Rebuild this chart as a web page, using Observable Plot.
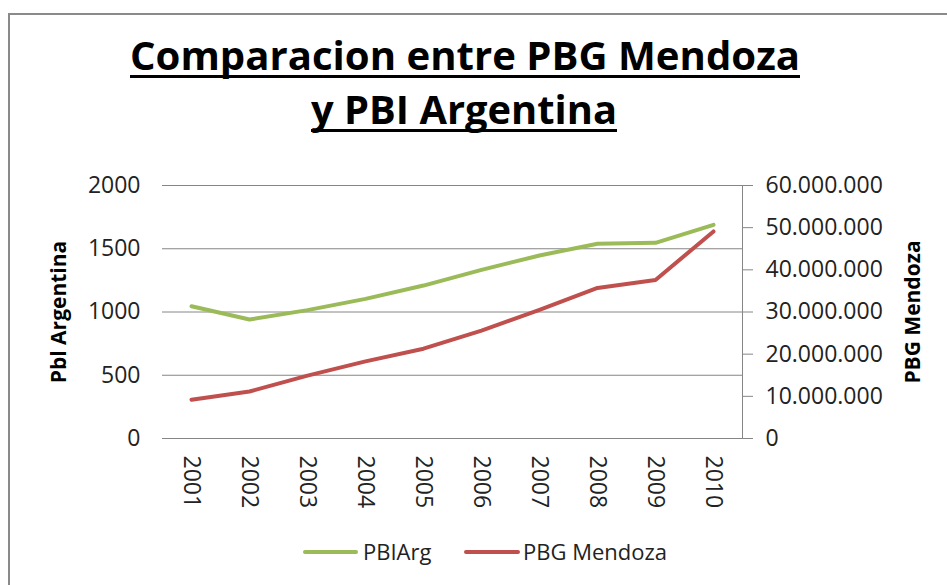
<!DOCTYPE html>
<html>
<head>
<meta charset="utf-8">
<script src="https://cdn.jsdelivr.net/npm/d3@7"></script>
<script src="https://cdn.jsdelivr.net/npm/@observablehq/plot@0.6"></script>
<style>
  html, body { margin: 0; padding: 0; background: #fff; }
  #chart { position: relative; width: 947px; height: 585px; overflow: hidden; background: #fff; font-family: "Open Sans", sans-serif; }
  #border { position: absolute; left: 8px; top: 13px; width: 1200px; height: 1200px; border-left: 2px solid #8a8a8a; border-top: 2px solid #8a8a8a; }
  #plot { position: absolute; left: 0; top: 0; }
  .title { position: absolute; white-space: nowrap; font-weight: bold; font-size: 40px; line-height: 40px; color: #000;
           text-decoration: underline; text-decoration-thickness: 3px; text-underline-offset: 5px;
           text-decoration-skip-ink: none; transform-origin: 0 0; }
  .legend-swatch { position: absolute; top: 550px; height: 4px; border-radius: 2px; }
  .legend-label { position: absolute; top: 536px; font-size: 22px; line-height: 30px; color: #222; white-space: nowrap; }
  g[aria-label="y-axis label"] text { font-weight: bold; font-size: 21px; fill: #000; }
</style>
</head>
<body>
<div id="chart">
  <div id="border"></div>
  <div id="plot"></div>
  <div id="t1" class="title">Comparacion entre PBG Mendoza</div>
  <div id="t2" class="title">y PBI Argentina</div>
  <div id="legend"></div>
</div>
<script>
// ---- data ----
const years = ["2001", "2002", "2003", "2004", "2005", "2006", "2007", "2008", "2009", "2010"];
const pbiArg = [1045, 941, 1015, 1104, 1209, 1333, 1447, 1539, 1547, 1689];
const pbgMendoza = [9180000, 11150000, 14900000, 18300000, 21300000, 25600000, 30500000, 35700000, 37600000, 49100000];
const leftTicks = [0, 500, 1000, 1500, 2000];
const rightTicks = [0, 10000000, 20000000, 30000000, 40000000, 50000000, 60000000];
const seriesNames = ["PBIArg", "PBG Mendoza"];
const seriesColors = ["#9BBB59", "#C0504D"];
const leftLabel = "Pbl Argentina";
const rightLabel = "PBG Mendoza";

// ---- dual-axis mapping ----
const leftMax = leftTicks[leftTicks.length - 1];
const rightMax = rightTicks[rightTicks.length - 1];
const k = leftMax / rightMax;
const fmt = d3.formatLocale({decimal: ",", thousands: ".", grouping: [3], currency: ["", ""]}).format(",.0f");

const plot = Plot.plot({
  width: 947,
  height: 585,
  marginTop: 185,
  marginBottom: 147,
  marginLeft: 162,
  marginRight: 205,
  style: {fontFamily: "'Open Sans', sans-serif", fontSize: "23px", color: "#222", background: "transparent", overflow: "visible"},
  x: {type: "point", domain: years, padding: 0.5},
  y: {domain: [0, leftMax]},
  marks: [
    Plot.gridY(leftTicks, {stroke: "#868686", strokeOpacity: 1, strokeWidth: 1}),
    Plot.frame({anchor: "right", stroke: "#868686", strokeWidth: 1}),
    Plot.axisY(leftTicks, {anchor: "left", tickSize: 0, tickPadding: 22, fontSize: 23, fill: "#222",
      tickFormat: d => String(d),
      label: leftLabel, labelAnchor: "center", labelOffset: 111, labelArrow: "none"}),
    Plot.axisY(rightTicks.map(v => v * k), {anchor: "right", tickSize: 10, tickPadding: 13, fontSize: 23,
      stroke: "#868686", fill: "#222", tickFormat: d => fmt(Math.round(d / k)),
      label: rightLabel, labelAnchor: "center", labelOffset: 177, labelArrow: "none"}),
    Plot.axisX(years, {anchor: "bottom", tickSize: 0, tickPadding: 17, tickRotate: 90, fontSize: 23, fill: "#222", label: null}),
    Plot.lineY(pbiArg, {x: years, stroke: seriesColors[0], strokeWidth: 4, strokeLinejoin: "round", strokeLinecap: "round"}),
    Plot.lineY(pbgMendoza.map(v => v * k), {x: years, stroke: seriesColors[1], strokeWidth: 4, strokeLinejoin: "round", strokeLinecap: "round"})
  ]
});
document.getElementById("plot").appendChild(plot);

// ---- title: fit to reference widths ----
function fit(id, left, top, width) {
  const el = document.getElementById(id);
  el.style.left = left + "px";
  el.style.top = top + "px";
  const w = el.getBoundingClientRect().width;
  el.style.transform = `scaleX(${width / w})`;
}
fit("t1", 130, 35, 670);
fit("t2", 311, 89, 306);

// ---- legend ----
const legend = document.getElementById("legend");
const legendPos = [{sw: 303, swW: 55, tx: 363}, {sw: 464, swW: 56, tx: 523}];
seriesNames.forEach((name, i) => {
  const s = document.createElement("div");
  s.className = "legend-swatch";
  s.style.left = legendPos[i].sw + "px";
  s.style.width = legendPos[i].swW + "px";
  s.style.background = seriesColors[i];
  legend.appendChild(s);
  const t = document.createElement("div");
  t.className = "legend-label";
  t.style.left = legendPos[i].tx + "px";
  t.textContent = name;
  legend.appendChild(t);
});
</script>
</body>
</html>
